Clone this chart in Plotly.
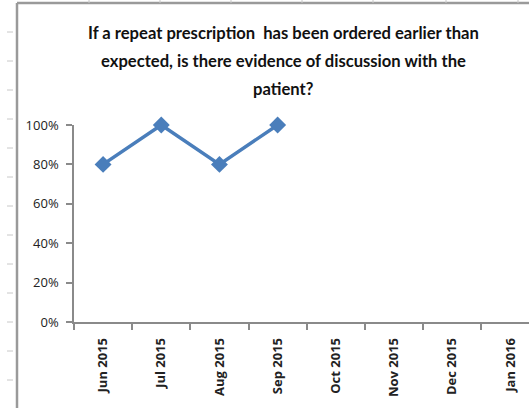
import plotly.graph_objects as go

categories = ["Jun 2015", "Jul 2015", "Aug 2015", "Sep 2015", "Oct 2015", "Nov 2015", "Dec 2015", "Jan 2016"]
values = [0.8, 1.0, 0.8, 1.0, None, None, None, None]
title_lines = [
    "If a repeat prescription  has been ordered earlier than",
    "expected, is there evidence of discussion with the",
    "patient?",
]
y_ticks = [0, 0.2, 0.4, 0.6, 0.8, 1.0]

W, H = 529, 408
L, R, T, B = 74, 0, 125, 86
pw, ph = W - L - R, H - T - B

def px(x):
    return (x - L) / pw

def py(y):
    return (H - B - y) / ph

fig = go.Figure()
fig.add_trace(go.Scatter(
    x=categories, y=values, mode="lines+markers",
    line=dict(color="#4A7EBB", width=3.5),
    marker=dict(symbol="diamond", size=13, color="#4A7EBB"),
    connectgaps=False, showlegend=False, cliponaxis=False,
))

fig.update_layout(
    width=W, height=H,
    margin=dict(l=L, r=R, t=T, b=B, autoexpand=False),
    plot_bgcolor="white", paper_bgcolor="white",
    xaxis=dict(
        type="category", range=[-0.5, 7.32], showline=True, linecolor="#8a8a8a", linewidth=1.5,
        ticks="outside", tickson="boundaries", ticklen=6, tickcolor="#8a8a8a", tickwidth=1.5,
        tickangle=-90, automargin=False, ticklabelstandoff=9,
        tickfont=dict(family="Open Sans, DejaVu Sans, sans-serif", size=13, color="#222", weight="bold"),
        showgrid=False, zeroline=False,
    ),
    yaxis=dict(
        range=[0, 1], tickvals=y_ticks, tickformat=".0%", showline=True, linecolor="#8a8a8a", linewidth=1.5,
        ticks="outside", ticklen=6, tickcolor="#8a8a8a", tickwidth=1.5, automargin=False,
        ticklabelstandoff=5,
        tickfont=dict(family="Open Sans, DejaVu Sans, sans-serif", size=13, color="#222"),
        showgrid=False, zeroline=False,
    ),
)

title_y = [33, 61, 89]
for line, yy in zip(title_lines, title_y):
    fig.add_annotation(
        text=line, xref="paper", yref="paper", x=px(283), y=py(yy),
        xanchor="center", yanchor="middle", showarrow=False,
        font=dict(family="Lato, Open Sans, sans-serif", size=16.6, color="#111", weight="bold"),
    )

# spreadsheet frame decorations
shapes = []
shapes.append(dict(type="line", xref="paper", yref="paper", x0=px(17), x1=px(17), y0=py(3), y1=py(408),
                   line=dict(color="#9a9a9a", width=2.5)))
shapes.append(dict(type="line", xref="paper", yref="paper", x0=px(17), x1=px(529), y0=py(3), y1=py(3),
                   line=dict(color="#9a9a9a", width=2.5)))
for yy in range(32, 408, 29):
    shapes.append(dict(type="line", xref="paper", yref="paper", x0=px(7), x1=px(13), y0=py(yy), y1=py(yy),
                       line=dict(color="#c8c8c8", width=1)))
for xx in [89, 160, 231, 302, 373, 446, 518]:
    shapes.append(dict(type="line", xref="paper", yref="paper", x0=px(xx), x1=px(xx), y0=py(0), y1=py(3),
                       line=dict(color="#c8c8c8", width=1)))
fig.update_layout(shapes=shapes)

fig.write_html("out.html", config={"displayModeBar": False},
               post_script="document.body.style.margin='0';document.body.style.overflow='hidden';")
